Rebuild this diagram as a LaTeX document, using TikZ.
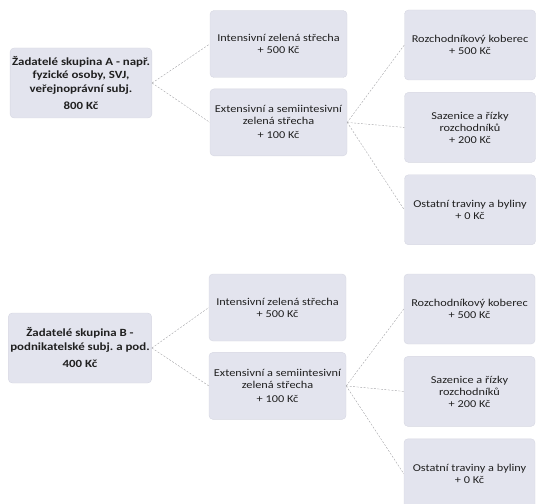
\documentclass[tikz,border=0pt]{standalone}
\usepackage{fontspec}
\setmainfont{Carlito}[FakeStretch=1.17]
\usepackage{xcolor}
\usepackage{tikz}
\usetikzlibrary{positioning}
\definecolor{boxbg}{HTML}{E3E4EE}
\definecolor{boxline}{HTML}{D6D7E2}
\definecolor{linkgray}{HTML}{A4A4A8}
\definecolor{txt}{HTML}{202020}
\frenchspacing

\begin{document}
\begin{tikzpicture}[
  x=1bp, y=-1bp,
  font=\fontsize{10.5bp}{12bp}\selectfont,
  base/.style={rectangle, rounded corners=4bp, draw=boxline, fill=boxbg,
               text=txt, align=center, inner sep=2bp},
  applicant/.style={base, minimum width=140bp, minimum height=70bp,
                    font=\fontsize{11bp}{13.5bp}\selectfont\bfseries},
  roof/.style={base, minimum width=137bp, minimum height=67bp},
  plant/.style={base, minimum width=131bp, minimum height=70bp},
  link/.style={linkgray, line width=0.4pt, dash pattern=on 2pt off 1.5pt},
  node distance=11bp
]
  \useasboundingbox (0,0) rectangle (539,504);

  % skupina A
  \node[applicant] (appA) at (81,83) {Žadatelé skupina A - např.\\ fyzické osoby, SVJ,\\ veřejnoprávní subj.\\[4bp] 800 Kč};
  \node[roof] (intA) at (278.5,44) {Intensivní zelená střecha\\ + 500 Kč};
  \node[roof, below=of intA] (extA) {Extensivní a semiintesivní\\ zelená střecha\\[2bp] + 100 Kč};
  \node[plant] (kobA) at (470,45) {Rozchodníkový koberec\\ + 500 Kč};
  \node[plant, below=12bp of kobA] (sazA) {Sazenice a řízky\\ rozchodníků\\ + 200 Kč};
  \node[plant, below=12bp of sazA] (ostA) {Ostatní traviny a byliny\\ + 0 Kč};

  \draw[link] (appA.east) -- (intA.west);
  \draw[link] (appA.east) -- (extA.west);
  \draw[link] (extA.east) -- (kobA.west);
  \draw[link] (extA.east) -- (sazA.west);
  \draw[link] (extA.east) -- (ostA.west);

  % skupina B
  \node[applicant] (appB) at (80,348) {Žadatelé skupina B -\\ podnikatelské subj. a pod.\\[4bp] 400 Kč};
  \node[roof] (intB) at (277.5,307.5) {Intensivní zelená střecha\\ + 500 Kč};
  \node[roof, below=of intB] (extB) {Extensivní a semiintesivní\\ zelená střecha\\[2bp] + 100 Kč};
  \node[plant] (kobB) at (469.5,309) {Rozchodníkový koberec\\ + 500 Kč};
  \node[plant, below=12bp of kobB] (sazB) {Sazenice a řízky\\ rozchodníků\\ + 200 Kč};
  \node[plant, below=12bp of sazB] (ostB) {Ostatní traviny a byliny\\ + 0 Kč};

  \draw[link] (appB.east) -- (intB.west);
  \draw[link] (appB.east) -- (extB.west);
  \draw[link] (extB.east) -- (kobB.west);
  \draw[link] (extB.east) -- (sazB.west);
  \draw[link] (extB.east) -- (ostB.west);
\end{tikzpicture}
\end{document}
